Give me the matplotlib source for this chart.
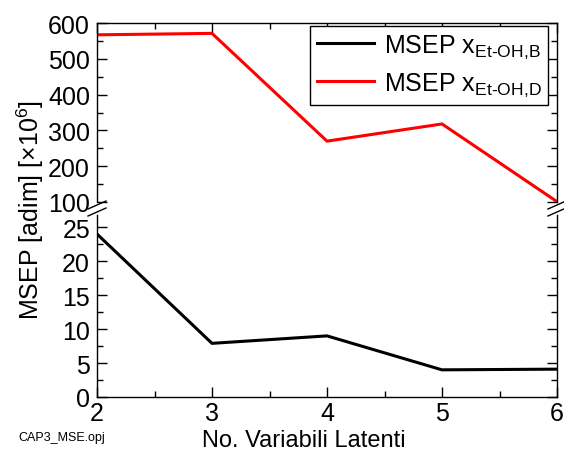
import matplotlib
matplotlib.use('Agg')
import matplotlib.pyplot as plt
from matplotlib.ticker import MultipleLocator

plt.rcParams['font.family'] = ['Liberation Sans', 'DejaVu Sans']
plt.rcParams['mathtext.fontset'] = 'custom'
plt.rcParams['mathtext.rm'] = 'Liberation Sans'
plt.rcParams['mathtext.it'] = 'Liberation Sans:italic'
plt.rcParams['mathtext.bf'] = 'Liberation Sans:bold'

# MSEP vs number of latent variables
n_lv = [2, 3, 4, 5, 6]
msep_b = [24.0, 7.9, 9.0, 4.0, 4.1]
msep_d = [567, 571, 270, 318, 101]
label_b = r'MSEP x$_{\mathrm{Et\text{-}OH{,}B}}$'
label_d = r'MSEP x$_{\mathrm{Et\text{-}OH{,}D}}$'

W, H = 564, 452
fig = plt.figure(figsize=(W / 100, H / 100), dpi=100)

def frac(x0, y0, x1, y1):
    return [x0 / W, 1 - y1 / H, (x1 - x0) / W, (y1 - y0) / H]

ax_top = fig.add_axes(frac(97, 24, 557, 203))
ax_bot = fig.add_axes(frac(97, 216, 557, 398))

ax_top.plot(n_lv, msep_b, color='black', lw=2.2, label=label_b)
ax_top.plot(n_lv, msep_d, color='red', lw=2.2, label=label_d)
ax_bot.plot(n_lv, msep_b, color='black', lw=2.2)
ax_bot.plot(n_lv, msep_d, color='red', lw=2.2)

ax_top.set_ylim(100, 600)
ax_bot.set_ylim(0, 26.8)
for ax in (ax_top, ax_bot):
    ax.set_xlim(2, 6)
    ax.xaxis.set_major_locator(MultipleLocator(1))
    ax.xaxis.set_minor_locator(MultipleLocator(0.5))
    ax.tick_params(which='both', direction='in', top=True, right=True,
                   width=1, labelsize=18, pad=5)
    ax.tick_params(which='major', length=7)
    ax.tick_params(which='minor', length=4)
    for s in ax.spines.values():
        s.set_linewidth(1)

ax_top.yaxis.set_major_locator(MultipleLocator(100))
ax_top.yaxis.set_minor_locator(MultipleLocator(50))
ax_bot.yaxis.set_major_locator(MultipleLocator(5))
ax_bot.yaxis.set_minor_locator(MultipleLocator(2.5))

ax_top.spines['bottom'].set_visible(False)
ax_top.tick_params(axis='x', which='both', bottom=False, labelbottom=False)
ax_top.set_yticks([100, 200, 300, 400, 500, 600])
ax_bot.spines['top'].set_visible(False)
ax_bot.tick_params(axis='x', which='both', top=False)
ax_bot.tick_params(axis='x', pad=3)

# break marks on both vertical spines
for xp in (97, 557):
    for yp in (206, 213):
        fig.add_artist(plt.Line2D([(xp - 9) / W, (xp + 9) / W],
                                  [1 - (yp + 4) / H, 1 - (yp - 4) / H],
                                  color='black', lw=1))

leg = ax_top.legend(loc='upper right', bbox_to_anchor=(548 / W, 1 - 27 / H),
                    bbox_transform=fig.transFigure, borderaxespad=0,
                    fontsize=18, frameon=True, fancybox=False,
                    edgecolor='black', framealpha=1, handlelength=2.3,
                    labelspacing=0.45, handletextpad=0.4, borderpad=0.25)
leg.get_frame().set_linewidth(1)

fig.text(30 / W, 1 - 210 / H, r'MSEP [adim] [$\times$10$^{6}$]', rotation=90,
         ha='center', va='center', fontsize=18)
fig.text(304 / W, 1 - 441 / H, 'No. Variabili Latenti', ha='center', va='center',
         fontsize=17)
fig.text(18 / W, 1 - 438 / H, 'CAP3_MSE.opj', ha='left', va='center', fontsize=9)

fig.savefig('out.png', dpi=100)
